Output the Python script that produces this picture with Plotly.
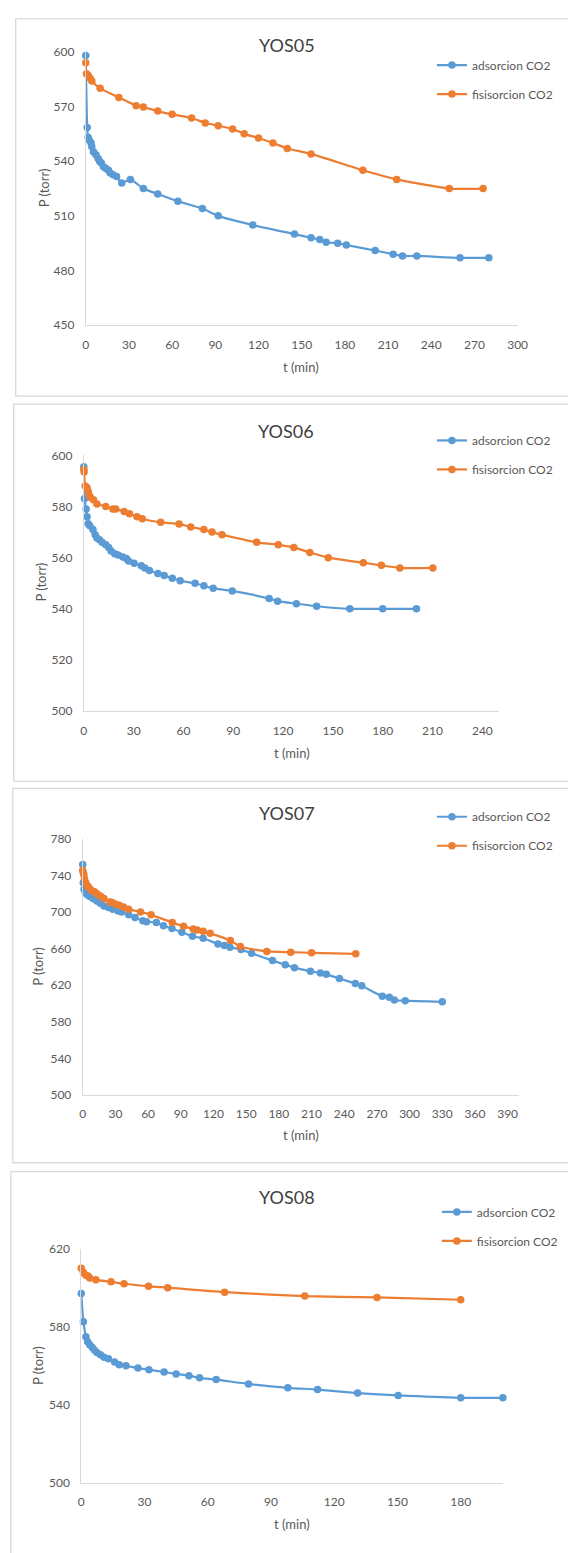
import plotly.graph_objects as go

# ---------------- data ----------------
titles = ["YOS05", "YOS06", "YOS07", "YOS08"]
series_names = ["adsorcion CO2", "fisisorcion CO2"]

t05_ads = [0, 1, 1.7, 2.5, 3.7, 4.2, 5.4, 7.1, 8.6, 9.6, 10.8, 12.3, 14, 15.8, 17, 19, 21.4, 25, 31, 40,
           50, 64, 81, 92, 116, 145, 156.5, 162.5, 167, 175, 181, 201, 213.5, 220, 230, 260, 280]
p05_ads = [598, 558.5, 553, 551.5, 550, 548, 545, 543.5, 541.5, 540, 539, 537, 536, 535, 533.5, 532.5, 531.6, 528, 530, 525,
           522, 518, 514, 510, 505, 500, 498, 497, 495.5, 495, 494, 491, 489, 488, 488, 487, 487]
t05_fis = [0, 0.5, 1.7, 3, 4.2, 10, 23, 35, 40, 50, 60, 73.5, 83, 92, 102, 110, 120, 130, 140, 156.5,
           192.5, 216, 252.5, 276]
p05_fis = [594, 588, 587, 585.5, 584, 580, 575, 570.5, 569.7, 567.5, 565.7, 563.7, 561, 559.5, 557.7, 555, 552.7, 550, 547, 544,
           535, 530, 525, 525]

t06_ads = [0, 0.4, 1.4, 2, 2.6, 3.6, 5.5, 6.8, 7.9, 9.4, 11, 13.2, 15, 16.4, 18.6, 20.7, 23.5, 25.6, 27, 30.3,
           34.6, 36.7, 39.5, 44.6, 48.4, 53.3, 58, 67, 72.3, 77.9, 89.4, 111.6, 116.7, 128, 140.2, 160.2, 180, 200.3]
p06_ads = [595.5, 583, 579, 576, 573.3, 572.5, 571, 569, 567.7, 567, 566, 565, 564, 562.6, 561.5, 561, 560.3, 559.7, 558.7, 557.8,
           556.8, 556, 555, 553.8, 553, 552, 551, 550, 549, 548, 547, 544, 543, 542, 541, 540, 540, 540]
t06_fis = [0, 0.2, 0.8, 1.9, 2.6, 3.2, 4, 5.8, 7.9, 13.2, 17.5, 19.2, 24.3, 27.5, 32, 35.2, 46.3, 57.4, 64.4, 72.3,
           77.2, 83.2, 104.1, 117.1, 126.5, 136.1, 147.2, 168.3, 179.2, 190.3, 210.2]
p06_fis = [594.5, 593.5, 588, 587.4, 586, 584.5, 583.5, 582.6, 581, 580, 579, 579, 578, 577.2, 576, 575.2, 573.8, 573.2, 572, 571,
           570, 569, 566, 565, 564, 562, 560, 558, 557, 556, 556]

t07_ads = [0, 0.5, 1.2, 2.3, 4.2, 6.5, 9.7, 13, 16.2, 19.5, 23.7, 27.6, 32.5, 35.7, 42.2, 48, 55.2, 58.5, 67.6, 74.1,
           81.9, 91, 100.7, 110.5, 124.1, 130, 135.2, 145.3, 155, 174.2, 185.9, 194.3, 209, 218.1, 223.6, 235.6, 250.2, 256.1, 275, 281.4,
           286, 296, 330]
p07_ads = [752, 732, 725, 721.5, 719, 717, 714.7, 712.2, 709.6, 706.7, 705, 703.1, 701.3, 700.2, 697, 694, 690.5, 689.4, 688.7, 685,
           682, 678, 673.5, 671.4, 665.2, 663.4, 661.6, 659, 655, 647, 642.5, 639.3, 635.3, 633.5, 632, 627.4, 622, 619.4, 608, 607,
           604, 603.2, 602]
t07_fis = [0, 0.5, 1, 1.6, 2.6, 4.2, 5.8, 8.1, 10.7, 13, 16.2, 19.5, 25, 27, 30.2, 33.5, 37.4, 42.2, 53, 62.7,
           82.2, 92.6, 101.4, 105, 110.5, 117, 135.5, 144.6, 169, 190.9, 210, 250.6]
p07_fis = [745.7, 743, 741, 736.7, 732.7, 729, 726.6, 723.7, 722.3, 720, 717.6, 715, 711, 710.4, 708.6, 707.5, 705.7, 703.1, 700.2, 697,
           688.7, 684.4, 681.5, 680.4, 679, 676.8, 669, 662.4, 657, 656.2, 655.5, 654.4]

t08_ads = [0, 1, 2.2, 3, 4, 5.2, 6.2, 7.4, 9.1, 10.8, 12.9, 15.8, 18, 21.2, 26.9, 32.1, 39.3, 45, 51.1, 56.1,
           64, 79.3, 98, 112.1, 131.1, 150.3, 180, 200]
p08_ads = [597, 582.6, 574.9, 572.3, 570.7, 569.3, 568.1, 566.8, 565.6, 564.4, 563.6, 561.9, 560.5, 560, 558.8, 558, 556.8, 555.8, 554.9, 553.8,
           552.9, 550.7, 548.7, 547.8, 546, 544.8, 543.6, 543.6]
t08_fis = [0, 1, 2, 3.2, 4, 6.9, 14.1, 20.3, 31.9, 41, 68, 106, 140.3, 180]
p08_fis = [610, 607.8, 606.5, 606, 605, 604, 603, 602, 600.7, 600, 597.7, 595.7, 595, 593.8]

x_ranges = [[0, 300], [0, 250], [0, 400], [0, 200]]
y_ranges = [[450, 600], [500, 600], [500, 780], [500, 620]]
x_dticks = [30, 30, 30, 30]
y_dticks = [30, 20, 40, 40]

data_sets = [
    (t05_ads, p05_ads, t05_fis, p05_fis),
    (t06_ads, p06_ads, t06_fis, p06_fis),
    (t07_ads, p07_ads, t07_fis, p07_fis),
    (t08_ads, p08_ads, t08_fis, p08_fis),
]

# ---------------- layout geometry (pixels) ----------------
W, H = 568, 1553
BLUE = "#5B9BD5"
ORANGE = "#ED7D31"
GRAY_TXT = "#595959"
AX_LINE = "#D9D9D9"
FONT = "Lato, 'Open Sans', sans-serif"

# plot areas: (left, right, top, bottom)
plot_px = [
    (84.7, 526.7, 44.3, 320.3),
    (82.7, 507.6, 451.7, 710.0),
    (81.6, 527.6, 839.0, 1097.7),
    (80.1, 511.6, 1252.7, 1489.3),
]
# outer boxes: (left, top, bottom)
box_px = [(13, 11, 392), (11, 400, 781), (10, 788, 1166), (8, 1175, 1600)]
title_px = [(291, 37), (290, 427), (291, 813), (291, 1201)]
xlab_px = [(305, 363), (296, 752), (305, 1138), (296, 1531)]
ylab_px = [(42, 182), (39, 580), (35, 968), (36, 1371)]
legend_px = [(439, 43), (439, 422), (439, 802), (444, 1201)]


def px(x):
    return x / W


def py(y):
    return 1 - y / H


fig = go.Figure()
shapes = []
annotations = []
layout_extra = {}

for i in range(4):
    sfx = "" if i == 0 else str(i + 1)
    xa = "x" + sfx
    ya = "y" + sfx
    leg = "legend" + sfx
    t_a, p_a, t_f, p_f = data_sets[i]
    for tt, pp, col, name in [(t_a, p_a, BLUE, series_names[0]), (t_f, p_f, ORANGE, series_names[1])]:
        fig.add_trace(go.Scatter(
            x=tt, y=pp, name=name, mode="lines+markers",
            line=dict(color=col, width=2.2, shape="spline", smoothing=0.6),
            marker=dict(color=col, size=7.5),
            xaxis=xa, yaxis=ya, legend=leg, legendgroup=name + sfx,
            cliponaxis=False,
        ))
    l, r, t, b = plot_px[i]
    layout_extra["xaxis" + sfx] = dict(
        domain=[px(l), px(r)], anchor=ya, range=x_ranges[i], dtick=x_dticks[i], tick0=x_ranges[i][0],
        showgrid=False, zeroline=False, showline=True, linecolor=AX_LINE, linewidth=1,
        ticks="", ticklabelstandoff=8,
        tickfont=dict(family=FONT, size=12, color=GRAY_TXT),
    )
    layout_extra["yaxis" + sfx] = dict(
        domain=[py(b), py(t)], anchor=xa, range=y_ranges[i], dtick=y_dticks[i], tick0=y_ranges[i][0],
        showgrid=False, zeroline=False, showline=True, linecolor=AX_LINE, linewidth=1,
        ticks="", ticklabelstandoff=8,
        tickfont=dict(family=FONT, size=12, color=GRAY_TXT),
    )
    lx, ly = legend_px[i]
    layout_extra[leg] = dict(
        x=px(lx), y=py(ly), xanchor="left", yanchor="top", xref="paper", yref="paper",
        bgcolor="rgba(0,0,0,0)", borderwidth=0, tracegroupgap=10,
        font=dict(family=FONT, size=12, color=GRAY_TXT), itemwidth=30,
    )
    bl, bt, bb = box_px[i]
    shapes.append(dict(type="rect", xref="paper", yref="paper",
                       x0=px(bl), x1=px(620), y0=py(bb), y1=py(bt),
                       line=dict(color=AX_LINE, width=1.3), fillcolor="rgba(0,0,0,0)", layer="below"))
    tx, ty = title_px[i]
    annotations.append(dict(text=titles[i], x=px(tx), y=py(ty), xref="paper", yref="paper",
                            showarrow=False, xanchor="center", yanchor="middle",
                            font=dict(family=FONT, size=18, color="#404040")))
    ax_, ay_ = xlab_px[i]
    annotations.append(dict(text="t (min)", x=px(ax_), y=py(ay_), xref="paper", yref="paper",
                            showarrow=False, xanchor="center", yanchor="middle",
                            font=dict(family=FONT, size=13, color=GRAY_TXT)))
    bx_, by_ = ylab_px[i]
    annotations.append(dict(text="P (torr)", x=px(bx_), y=py(by_), xref="paper", yref="paper",
                            showarrow=False, xanchor="center", yanchor="middle", textangle=-90,
                            font=dict(family=FONT, size=13, color=GRAY_TXT)))

fig.update_layout(
    width=W, height=H, margin=dict(l=0, r=0, t=0, b=0),
    paper_bgcolor="white", plot_bgcolor="white",
    shapes=shapes, annotations=annotations, showlegend=True,
    **layout_extra,
)

fig.write_html(
    "out.html",
    post_script="document.body.style.margin='0';document.body.style.padding='0';document.body.style.overflow='hidden';",
)
